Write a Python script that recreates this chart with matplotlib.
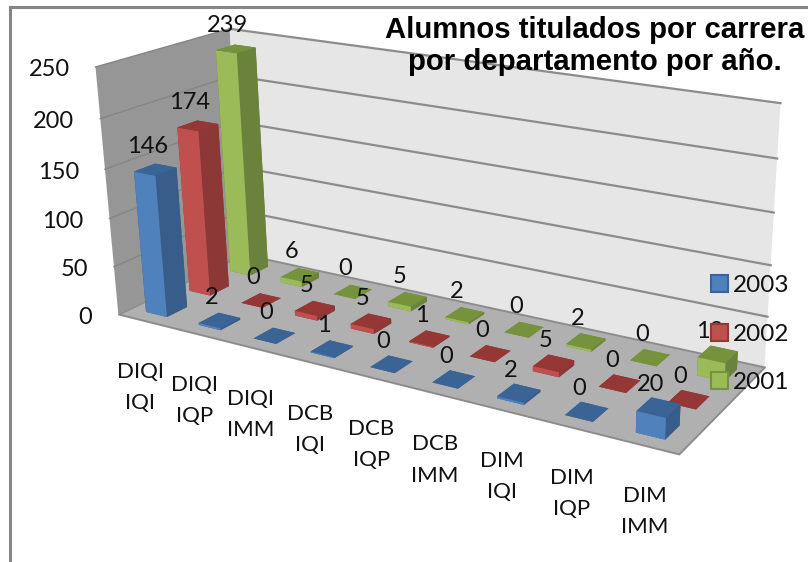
import numpy as np
import matplotlib
matplotlib.use("Agg")
import matplotlib.pyplot as plt
from matplotlib.lines import Line2D
from matplotlib.patches import Patch
from matplotlib.transforms import IdentityTransform
from mpl_toolkits.mplot3d import proj3d
from mpl_toolkits.mplot3d.art3d import Poly3DCollection

categories = ["DIQI\nIQI", "DIQI\nIQP", "DIQI\nIMM", "DCB\nIQI", "DCB\nIQP", "DCB\nIMM", "DIM\nIQI", "DIM\nIQP", "DIM\nIMM"]
series_names = ["2003", "2002", "2001"]
values_2003 = [146, 2, 0, 1, 0, 0, 2, 0, 20]
values_2002 = [174, 0, 5, 5, 1, 0, 5, 0, 0]
values_2001 = [239, 6, 0, 5, 2, 0, 2, 0, 18]
z_ticks = [0, 50, 100, 150, 200, 250]
title = "Alumnos titulados por carrera\npor departamento por año."

W, H = 808, 562
ZMAX = z_ticks[-1]
NX, NY = len(categories), len(series_names)
# (front, side, top) shades per series
shades = [("#4F81BD", "#385D8A", "#3A6496"),
          ("#C0504D", "#8C3836", "#953735"),
          ("#9BBB59", "#6A823C", "#76923C")]

# Camera calibration: box corners (normalised) -> reference pixels
calib = [((0, 0, 0), (115, 313)), ((1, 0, 0), (680, 454)), ((0, 1, 0), (247, 255)),
         ((1, 1, 0), (763, 367)), ((0, 0, 1), (98, 68)), ((0, 1, 1), (227, 28)),
         ((1, 1, 1), (781, 103))]
rows = []
for (a, b, c), (u, v) in calib:
    u, v = u / W, v / H
    rows.append([a, b, c, 1, 0, 0, 0, 0, -u * a, -u * b, -u * c, -u])
    rows.append([0, 0, 0, 0, a, b, c, 1, -v * a, -v * b, -v * c, -v])
P = np.linalg.svd(np.array(rows, float))[2][-1].reshape(3, 4)
P = np.diag([W, H, 1.0]) @ P @ np.diag([1 / NX, 1 / NY, 1 / ZMAX, 1.0])
P = P / P[2, 3]

fig = plt.figure(figsize=(W / 100, H / 100), dpi=100, facecolor="white")
ax = fig.add_axes([0, 0, 1, 1], projection="3d")
ax.set_axis_off()
ax.computed_zorder = False
ax.apply_aspect = lambda position=None: None
ax._focal_length = np.inf


def get_proj():
    T = ax.transData.inverted().get_matrix()
    F = np.array([[1, 0, 0], [0, -1, H], [0, 0, 1.0]])
    A = T @ F @ P
    return np.vstack([A[0], A[1], -np.array([0, 0, 0, 1.0]), A[2]])


ax.get_proj = get_proj


def face(pts, color, z, edge="none", lw=0):
    col = Poly3DCollection([pts], facecolors=color, edgecolors=edge, linewidths=lw, zorder=z)
    ax.add_collection3d(col, autolim=False)


def place(x, y, z, s, dx=0, dy=0, **kw):
    """Text at a 3D data position, shifted by dx, dy pixels (dy downwards)."""
    px, py, _ = proj3d.proj_transform(x, y, z, get_proj())
    dxy = ax.transData.transform((px, py))
    return ax.text2D(dxy[0] + dx, dxy[1] - dy, s, transform=IdentityTransform(), **kw)


face([(0, 0, 0), (0, NY, 0), (0, NY, ZMAX), (0, 0, ZMAX)], "#969696", 1)
face([(0, NY, 0), (NX, NY, 0), (NX, NY, ZMAX), (0, NY, ZMAX)], "#E6E6E6", 1)
face([(0, 0, 0), (NX, 0, 0), (NX, NY, 0), (0, NY, 0)], "#B0B0B0", 2, "#8C8C8C", 1.4)
for t in z_ticks:
    if t:
        ax.plot([0, 0], [0, NY], [t, t], color="#858585", lw=1.0, zorder=1.5)
        ax.plot([0, NX], [NY, NY], [t, t], color="#8C8C8C", lw=1.6, zorder=1.5)
    place(0, 0, t, str(t), dx=-26, dy=3, ha="right", va="center", fontsize=17,
          family="Lato", color="#111111", zorder=20)

BAR = 0.40
BAR_Y = 0.46
OFF = (1 - BAR) / 2
OFF_Y = (1 - BAR_Y) / 2
order = 3
all_values = [values_2003, values_2002, values_2001]
for s in range(NY - 1, -1, -1):
    front, side, top = shades[s]
    for i in range(NX):
        v = all_values[s][i]
        col = ax.bar3d([i + OFF], [s + OFF_Y], [0], BAR, BAR_Y, v,
                       color=[top, top, front, side, side, side], shade=False,
                       edgecolor="none", linewidth=0)
        col.set_zorder(order)
        order += 0.01

for s in range(NY):
    for i in range(NX):
        v = all_values[s][i]
        place(i + 0.5, s + 0.5, v, str(v), dx=-8, dy=-23, ha="center", va="center",
              fontsize=17, family="Lato", color="#111111", zorder=21)

for i, lab in enumerate(categories):
    place(i + 0.5, 0, 0, lab, dx=-4 + 0.9 * i, dy=67, ha="center", va="center", fontsize=16,
          family="Lato", color="#111111", linespacing=1.7, zorder=21)

fig.text(595 / W, 1 - 46 / H, title, ha="center", va="center", fontsize=21.2,
         fontweight="bold", family="Liberation Sans", color="black", linespacing=1.22)

handles = [Patch(facecolor=shades[i][0], edgecolor=shades[i][2], linewidth=1.5, label=series_names[i])
           for i in range(NY)]
fig.legend(handles=handles, loc="upper left", bbox_to_anchor=(704 / W, 1 - 268 / H), frameon=False,
           prop={"family": "Lato", "size": 17.5}, handlelength=0.7, handleheight=0.7,
           handletextpad=0.2, labelspacing=1.12, borderaxespad=0, borderpad=0.3,
           labelcolor="#111111")

fig.add_artist(Line2D([9.5 / W, 9.5 / W], [0, 1 - 6.5 / H], color="#868686", lw=2.2, transform=fig.transFigure))
fig.add_artist(Line2D([9.5 / W, 1], [1 - 6.5 / H, 1 - 6.5 / H], color="#868686", lw=2.2, transform=fig.transFigure))

fig.savefig("out.png", dpi=100)
